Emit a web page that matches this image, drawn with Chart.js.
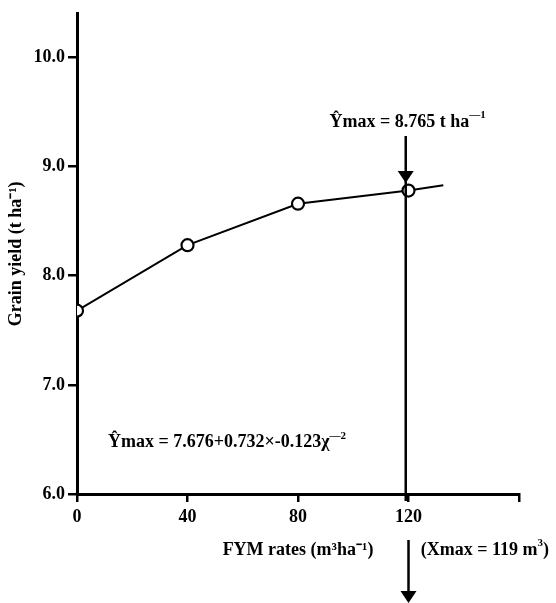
<!DOCTYPE html>
<html>
<head>
<meta charset="utf-8">
<script src="https://cdn.jsdelivr.net/npm/chart.js@4"></script>
<style>
  html, body { margin: 0; padding: 0; background: #fff; }
  #wrap { width: 556px; height: 603px; }
</style>
</head>
<body>
<div id="wrap"><canvas id="myChart" width="556" height="603"></canvas></div>
<script>
// values
const fymRates = [0, 40, 80, 120, 132.6];
const grainYield = [7.68, 8.28, 8.66, 8.78, 8.83];
const markerRadius = [6, 6, 6, 6, 0]; // last point is just the end of the fitted curve

const xTicks = [0, 40, 80, 120, 160];
const xTickLabels = ['0', '40', '80', '120', ''];
const yTicks = [6, 7, 8, 9, 10];
const yTickLabels = ['6.0', '7.0', '8.0', '9.0', '10.0'];

// annotations
const optimumRate = 119;   // Xmax
const arrowTop = 9.28;
const arrowTip = 8.85;
const equationAt = [11.2, 6.47];

const FONT = '"Liberation Serif", "Times New Roman", serif';
Chart.defaults.font.family = FONT;
Chart.defaults.font.size = 18;
Chart.defaults.font.weight = 'bold';
Chart.defaults.color = '#000';

function arrowHead(ctx, x, tipY) {
  ctx.beginPath();
  ctx.moveTo(x - 8, tipY - 12);
  ctx.lineTo(x + 8, tipY - 12);
  ctx.lineTo(x, tipY);
  ctx.closePath();
  ctx.fill();
}

// parts: [text, isSuperscript]
function drawRich(ctx, parts, x, y, align) {
  const main = 'bold 18px ' + FONT;
  const sup = 'bold 11px ' + FONT;
  let total = 0;
  parts.forEach(([t, s]) => { ctx.font = s ? sup : main; total += ctx.measureText(t).width; });
  let cx = align === 'center' ? x - total / 2 : x;
  ctx.textAlign = 'left';
  ctx.textBaseline = 'middle';
  parts.forEach(([t, s]) => {
    ctx.font = s ? sup : main;
    ctx.fillText(t, cx, s ? y - 7 : y);
    cx += ctx.measureText(t).width;
  });
}

const annotations = {
  id: 'annotations',
  afterDatasetsDraw(chart) {
    const {ctx, scales: {x, y}} = chart;
    ctx.save();
    ctx.strokeStyle = '#000';
    ctx.fillStyle = '#000';
    ctx.lineWidth = 2.5;

    // vertical line at Xmax with arrow onto the curve
    const lx = x.getPixelForValue(optimumRate);
    const top = y.getPixelForValue(arrowTop);
    const tip = y.getPixelForValue(arrowTip);
    ctx.beginPath();
    ctx.moveTo(lx, top);
    ctx.lineTo(lx, y.bottom + 7);
    ctx.stroke();
    arrowHead(ctx, lx, tip);

    // arrow below the axis
    const ax = x.getPixelForValue(120);
    ctx.beginPath();
    ctx.moveTo(ax, y.bottom + 46);
    ctx.lineTo(ax, y.bottom + 100);
    ctx.stroke();
    arrowHead(ctx, ax, y.bottom + 109);

    drawRich(ctx, [['Ŷmax = 8.765 t ha', false], ['\u20141', true]], lx + 2, top - 14, 'center');
    drawRich(ctx, [['Ŷmax = 7.676+0.732×-0.123χ', false], ['\u20142', true]],
      x.getPixelForValue(equationAt[0]), y.getPixelForValue(equationAt[1]), 'left');
    drawRich(ctx, [['(Xmax = 119 m', false], ['3', true], [')', false]], lx + 15, y.bottom + 56, 'left');
    ctx.restore();
  }
};

const ctx = document.getElementById('myChart');

const config = {
  type: 'scatter',
  data: {
    datasets: [{
      data: fymRates.map((v, i) => ({x: v, y: grainYield[i]})),
      showLine: true,
      borderColor: '#000',
      borderWidth: 2,
      pointRadius: markerRadius,
      pointBorderWidth: 2.2,
      pointBorderColor: '#000',
      pointBackgroundColor: '#fff',
      tension: 0,
    }],
  },
  options: {
    responsive: false,
    animation: false,
    layout: { padding: { top: 9, right: 37, left: 0, bottom: 0 } },
    plugins: { legend: { display: false }, tooltip: { enabled: false } },
    scales: {
      x: {
        type: 'linear',
        min: 0,
        max: 160,
        afterBuildTicks: (scale) => { scale.ticks = xTicks.map(v => ({value: v})); },
        afterFit: (scale) => { scale.height = 109; },
        ticks: { callback: (v, i) => xTickLabels[i], padding: 5, maxRotation: 0 },
        grid: { drawOnChartArea: false, drawTicks: true, tickLength: 8, color: '#000', lineWidth: 2.5 },
        border: { display: true, color: '#000', width: 3 },
        title: { display: true, text: 'FYM rates (m³ha⁻¹)', padding: { top: 0, bottom: 42 } },
      },
      y: {
        min: 6,
        max: 10.4,
        afterBuildTicks: (scale) => { scale.ticks = yTicks.map(v => ({value: v})); },
        afterFit: (scale) => { scale.width = 77; },
        ticks: { callback: (v, i) => yTickLabels[i], padding: 3 },
        grid: { drawOnChartArea: false, drawTicks: true, tickLength: 9, color: '#000', lineWidth: 2.5 },
        border: { display: true, color: '#000', width: 3 },
        title: { display: true, text: 'Grain yield (t ha⁻¹)', padding: { top: 6, bottom: 0 } },
      },
    },
  },
  plugins: [annotations],
};

const chart = new Chart(ctx, config);
</script>
</body>
</html>
